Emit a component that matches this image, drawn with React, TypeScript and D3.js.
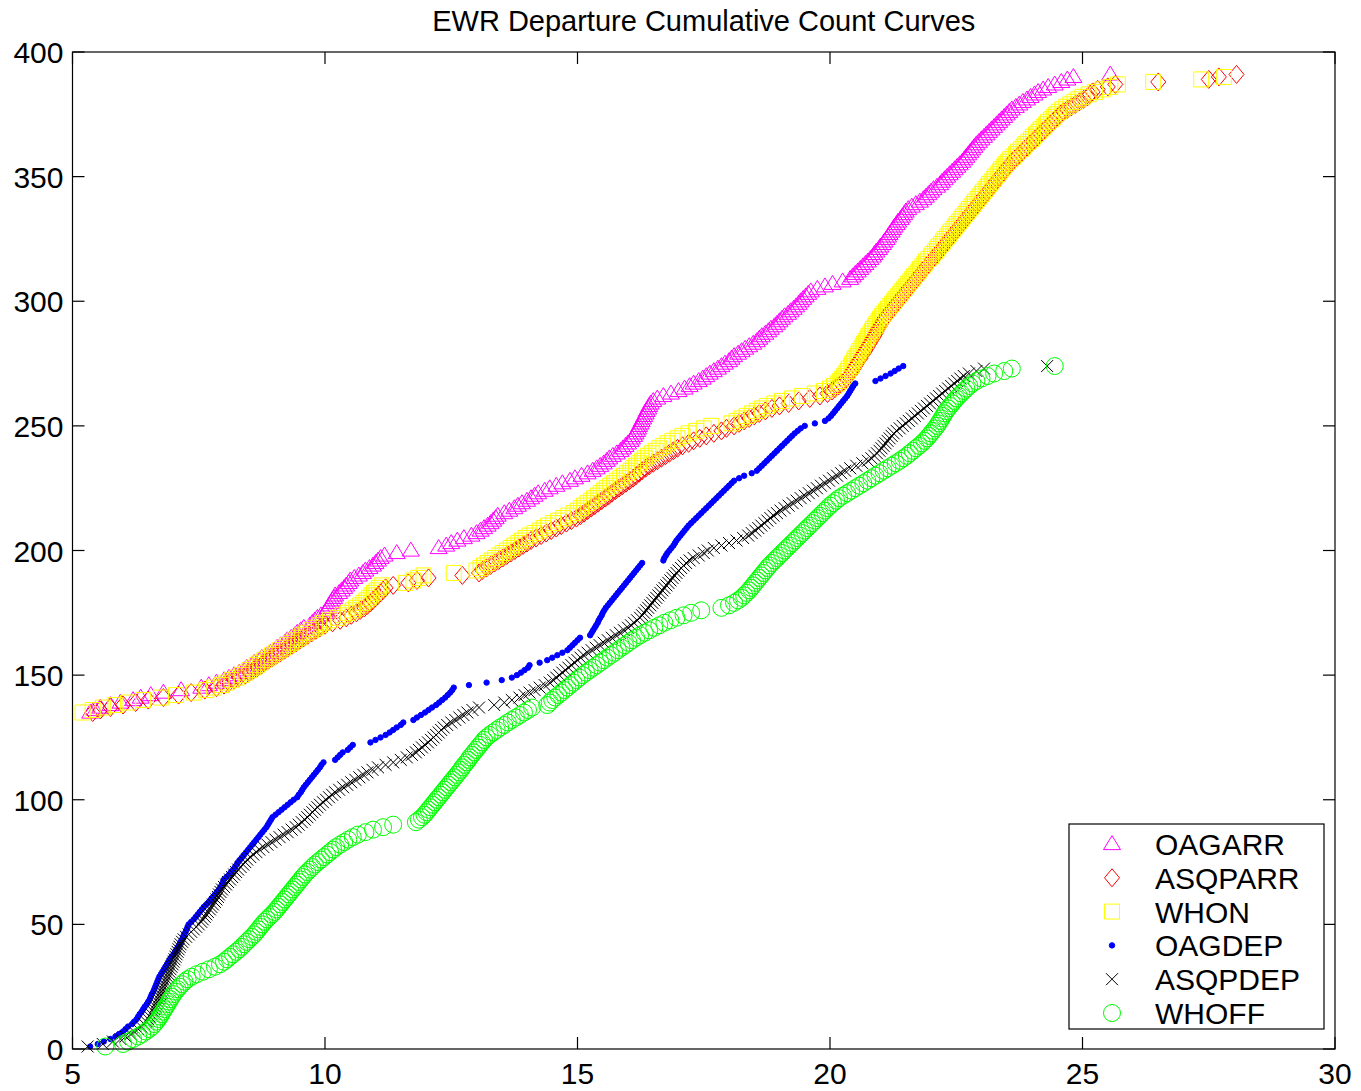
import React from "react";
import * as d3 from "d3";

// Cumulative count curves: each array holds event times (hours of day),
// the k-th entry is the time at which the cumulative count reached start + k.
const TITLE = "EWR Departure Cumulative Count Curves";
const X_TICKS = [5, 10, 15, 20, 25, 30];
const Y_TICKS = [0, 50, 100, 150, 200, 250, 300, 350, 400];

const ARR_START = 135;
const DEP_START = 1;

const OAGARR = [
  5.35, 5.45, 5.55, 5.75, 5.95, 6.2, 6.35, 6.55, 6.8, 7.15,
  7.55, 7.7, 7.85, 8.0, 8.1, 8.2, 8.3, 8.4, 8.45, 8.55,
  8.6, 8.7, 8.75, 8.85, 8.92, 9.0, 9.05, 9.12, 9.2, 9.25,
  9.33, 9.4, 9.45, 9.52, 9.58, 9.7, 9.75, 9.8, 9.85, 9.92,
  10.0, 10.03, 10.06, 10.08, 10.12, 10.15, 10.18, 10.2, 10.28, 10.33,
  10.38, 10.42, 10.47, 10.5, 10.58, 10.67, 10.75, 10.8, 10.88, 10.95,
  11.0, 11.05, 11.1, 11.18, 11.42, 11.7, 12.25, 12.4, 12.5, 12.62,
  12.75, 12.9, 13.0, 13.08, 13.15, 13.22, 13.28, 13.33, 13.38, 13.42,
  13.55, 13.65, 13.75, 13.82, 13.9, 14.0, 14.08, 14.15, 14.22, 14.35,
  14.45, 14.58, 14.7, 14.85, 14.95, 15.08, 15.2, 15.3, 15.38, 15.45,
  15.52, 15.58, 15.63, 15.7, 15.78, 15.85, 15.9, 15.95, 16.0, 16.05,
  16.08, 16.12, 16.15, 16.18, 16.2, 16.22, 16.25, 16.27, 16.3, 16.32,
  16.35, 16.37, 16.4, 16.42, 16.45, 16.5, 16.58, 16.7, 16.85, 17.0,
  17.12, 17.22, 17.3, 17.4, 17.48, 17.55, 17.62, 17.7, 17.78, 17.85,
  17.92, 18.0, 18.05, 18.1, 18.18, 18.25, 18.32, 18.4, 18.48, 18.55,
  18.6, 18.65, 18.72, 18.78, 18.83, 18.9, 18.95, 19.0, 19.05, 19.1,
  19.17, 19.22, 19.28, 19.33, 19.38, 19.42, 19.47, 19.52, 19.57, 19.62,
  19.75, 19.9, 20.05, 20.25, 20.4, 20.45, 20.5, 20.55, 20.6, 20.65,
  20.7, 20.75, 20.8, 20.85, 20.88, 20.92, 20.97, 21.0, 21.05, 21.08,
  21.12, 21.15, 21.18, 21.22, 21.25, 21.28, 21.32, 21.35, 21.4, 21.43,
  21.47, 21.5, 21.55, 21.62, 21.7, 21.78, 21.85, 21.9, 21.95, 22.0,
  22.05, 22.12, 22.18, 22.22, 22.27, 22.32, 22.37, 22.42, 22.47, 22.52,
  22.57, 22.62, 22.66, 22.7, 22.74, 22.78, 22.82, 22.86, 22.9, 22.95,
  23.0, 23.05, 23.1, 23.15, 23.2, 23.25, 23.3, 23.35, 23.4, 23.45,
  23.5, 23.55, 23.6, 23.68, 23.75, 23.82, 23.9, 23.97, 24.05, 24.12,
  24.22, 24.32, 24.45, 24.58, 24.7, 24.82, 25.55,
];

const ASQPARR = [
  5.4, 5.55, 5.75, 6.0, 6.25, 6.5, 6.8, 7.1, 7.35, 7.62,
  7.85, 8.0, 8.1, 8.2, 8.3, 8.42, 8.5, 8.58, 8.66, 8.74,
  8.8, 8.88, 8.96, 9.04, 9.12, 9.2, 9.27, 9.35, 9.43, 9.5,
  9.58, 9.66, 9.74, 9.82, 9.9, 10.0, 10.15, 10.3, 10.42, 10.52,
  10.62, 10.7, 10.78, 10.84, 10.9, 10.95, 11.0, 11.05, 11.1, 11.15,
  11.2, 11.35, 11.65, 11.82, 12.05, 12.72, 13.05, 13.12, 13.2, 13.28,
  13.36, 13.44, 13.52, 13.6, 13.68, 13.76, 13.84, 13.92, 14.0, 14.08,
  14.18, 14.28, 14.38, 14.48, 14.58, 14.68, 14.78, 14.88, 14.98, 15.06,
  15.13, 15.2, 15.27, 15.34, 15.41, 15.48, 15.55, 15.62, 15.68, 15.75,
  15.82, 15.89, 15.96, 16.03, 16.1, 16.16, 16.22, 16.28, 16.35, 16.42,
  16.5, 16.58, 16.66, 16.74, 16.82, 16.9, 16.98, 17.08, 17.2, 17.3,
  17.42, 17.55, 17.7, 17.85, 17.95, 18.1, 18.2, 18.3, 18.4, 18.5,
  18.6, 18.72, 18.85, 19.0, 19.18, 19.38, 19.6, 19.8, 19.95, 20.04,
  20.1, 20.17, 20.22, 20.28, 20.32, 20.36, 20.4, 20.44, 20.47, 20.5,
  20.53, 20.56, 20.6, 20.62, 20.66, 20.69, 20.72, 20.75, 20.78, 20.81,
  20.84, 20.87, 20.9, 20.92, 20.95, 20.98, 21.01, 21.04, 21.07, 21.11,
  21.15, 21.19, 21.23, 21.27, 21.31, 21.35, 21.39, 21.43, 21.47, 21.51,
  21.55, 21.59, 21.63, 21.67, 21.71, 21.75, 21.79, 21.83, 21.87, 21.91,
  21.95, 21.99, 22.03, 22.08, 22.12, 22.16, 22.2, 22.24, 22.28, 22.32,
  22.36, 22.4, 22.44, 22.48, 22.52, 22.56, 22.6, 22.64, 22.68, 22.72,
  22.76, 22.8, 22.84, 22.88, 22.92, 22.96, 23.0, 23.04, 23.08, 23.12,
  23.16, 23.2, 23.24, 23.28, 23.32, 23.36, 23.4, 23.44, 23.48, 23.52,
  23.56, 23.61, 23.66, 23.71, 23.76, 23.81, 23.86, 23.91, 23.96, 24.01,
  24.06, 24.11, 24.16, 24.21, 24.26, 24.31, 24.36, 24.41, 24.46, 24.51,
  24.56, 24.62, 24.7, 24.78, 24.86, 24.94, 25.02, 25.1, 25.15, 25.2,
  25.3, 25.5, 25.65, 26.5, 27.5, 27.7, 28.05,
];

const WHON = [
  5.2, 5.4, 5.6, 5.85, 6.1, 6.4, 6.75, 7.05, 7.4, 7.65,
  7.8, 7.95, 8.05, 8.15, 8.25, 8.35, 8.42, 8.5, 8.58, 8.65,
  8.72, 8.8, 8.88, 8.95, 9.02, 9.1, 9.17, 9.25, 9.33, 9.4,
  9.48, 9.55, 9.63, 9.72, 9.8, 9.88, 9.97, 10.1, 10.25, 10.35,
  10.45, 10.55, 10.62, 10.7, 10.76, 10.82, 10.87, 10.92, 10.97, 11.02,
  11.07, 11.12, 11.6, 11.75, 11.85, 11.95, 12.55, 13.0, 13.08, 13.15,
  13.22, 13.3, 13.37, 13.45, 13.52, 13.6, 13.68, 13.75, 13.83, 13.9,
  13.97, 14.05, 14.15, 14.25, 14.33, 14.42, 14.52, 14.62, 14.72, 14.82,
  14.92, 15.0, 15.07, 15.13, 15.2, 15.27, 15.33, 15.4, 15.46, 15.52,
  15.58, 15.65, 15.72, 15.78, 15.85, 15.92, 15.98, 16.05, 16.1, 16.16,
  16.22, 16.28, 16.33, 16.4, 16.47, 16.55, 16.62, 16.7, 16.78, 16.88,
  16.98, 17.08, 17.2, 17.35, 17.5, 17.65, 18.05, 18.15, 18.25, 18.35,
  18.45, 18.55, 18.65, 18.75, 18.9, 19.05, 19.25, 19.45, 19.7, 19.88,
  20.0, 20.08, 20.15, 20.2, 20.24, 20.28, 20.31, 20.35, 20.37, 20.42,
  20.44, 20.47, 20.49, 20.53, 20.56, 20.58, 20.62, 20.65, 20.67, 20.71,
  20.74, 20.76, 20.8, 20.83, 20.85, 20.89, 20.92, 20.96, 20.99, 21.03,
  21.06, 21.11, 21.15, 21.18, 21.23, 21.27, 21.3, 21.35, 21.39, 21.42,
  21.47, 21.51, 21.54, 21.59, 21.63, 21.66, 21.71, 21.75, 21.78, 21.83,
  21.87, 21.9, 21.95, 22.0, 22.03, 22.08, 22.12, 22.15, 22.2, 22.24,
  22.27, 22.32, 22.36, 22.39, 22.44, 22.48, 22.51, 22.56, 22.6, 22.63,
  22.68, 22.72, 22.75, 22.8, 22.84, 22.87, 22.92, 22.96, 23.0, 23.03,
  23.08, 23.12, 23.15, 23.2, 23.24, 23.27, 23.32, 23.36, 23.39, 23.44,
  23.48, 23.53, 23.57, 23.63, 23.68, 23.72, 23.78, 23.83, 23.87, 23.93,
  23.98, 24.02, 24.08, 24.13, 24.17, 24.23, 24.28, 24.32, 24.38, 24.43,
  24.48, 24.53, 24.6, 24.68, 24.76, 24.84, 24.92, 25.0, 25.12, 25.25,
  25.4, 25.55, 25.7, 26.4, 27.35, 27.8,
];

const OAGDEP = [
  5.35, 5.5, 5.62, 5.75, 5.85, 5.92, 6.0, 6.05, 6.1, 6.18,
  6.22, 6.27, 6.3, 6.33, 6.37, 6.4, 6.43, 6.47, 6.5, 6.53,
  6.55, 6.57, 6.6, 6.62, 6.64, 6.66, 6.68, 6.7, 6.72, 6.75,
  6.78, 6.81, 6.84, 6.87, 6.9, 6.93, 6.96, 7.0, 7.03, 7.06,
  7.09, 7.12, 7.14, 7.17, 7.19, 7.21, 7.24, 7.26, 7.28, 7.3,
  7.35, 7.4, 7.44, 7.48, 7.52, 7.56, 7.6, 7.65, 7.7, 7.74,
  7.78, 7.82, 7.86, 7.9, 7.93, 7.96, 7.98, 8.0, 8.05, 8.1,
  8.14, 8.18, 8.22, 8.25, 8.28, 8.32, 8.36, 8.4, 8.44, 8.48,
  8.52, 8.56, 8.6, 8.64, 8.68, 8.72, 8.76, 8.8, 8.84, 8.87,
  8.9, 8.93, 8.96, 9.02, 9.08, 9.14, 9.2, 9.26, 9.32, 9.38,
  9.45, 9.48, 9.52, 9.55, 9.58, 9.62, 9.66, 9.7, 9.74, 9.78,
  9.82, 9.86, 9.9, 9.93, 9.97, 10.2, 10.25, 10.3, 10.35, 10.45,
  10.5, 10.55, 10.9, 11.0, 11.1, 11.2, 11.28, 11.35, 11.42, 11.5,
  11.55, 11.75, 11.82, 11.9, 11.98, 12.05, 12.12, 12.2, 12.26, 12.32,
  12.38, 12.43, 12.48, 12.52, 12.55, 12.85, 13.2, 13.5, 13.7, 13.8,
  13.88, 13.95, 14.02, 14.05, 14.25, 14.4, 14.5, 14.6, 14.7, 14.8,
  14.85, 14.9, 14.95, 15.0, 15.05, 15.25, 15.28, 15.31, 15.34, 15.37,
  15.4, 15.42, 15.45, 15.48, 15.5, 15.53, 15.56, 15.6, 15.64, 15.68,
  15.72, 15.76, 15.8, 15.84, 15.88, 15.92, 15.96, 16.0, 16.04, 16.08,
  16.12, 16.16, 16.2, 16.24, 16.28, 16.7, 16.72, 16.75, 16.78, 16.82,
  16.86, 16.9, 16.93, 16.96, 17.0, 17.04, 17.08, 17.12, 17.16, 17.2,
  17.25, 17.3, 17.35, 17.4, 17.45, 17.5, 17.55, 17.6, 17.65, 17.7,
  17.75, 17.8, 17.85, 17.9, 17.95, 18.0, 18.05, 18.1, 18.2, 18.3,
  18.45, 18.55, 18.6, 18.65, 18.7, 18.75, 18.8, 18.85, 18.9, 18.95,
  19.0, 19.05, 19.1, 19.15, 19.2, 19.25, 19.3, 19.36, 19.42, 19.5,
  19.7, 19.9, 19.97, 20.02, 20.06, 20.1, 20.14, 20.18, 20.22, 20.26,
  20.3, 20.34, 20.37, 20.4, 20.43, 20.46, 20.5, 20.9, 21.0, 21.1,
  21.2, 21.28, 21.36, 21.45,
];

const ASQPDEP = [
  5.3, 5.6, 5.8, 5.95, 6.05, 6.15, 6.22, 6.3, 6.36, 6.42,
  6.46, 6.5, 6.53, 6.56, 6.6, 6.62, 6.64, 6.66, 6.68, 6.7,
  6.72, 6.74, 6.76, 6.78, 6.8, 6.82, 6.84, 6.86, 6.88, 6.9,
  6.92, 6.94, 6.96, 6.98, 7.0, 7.02, 7.04, 7.06, 7.08, 7.1,
  7.12, 7.14, 7.17, 7.2, 7.25, 7.3, 7.35, 7.4, 7.45, 7.5,
  7.55, 7.58, 7.62, 7.65, 7.68, 7.72, 7.75, 7.78, 7.82, 7.85,
  7.88, 7.9, 7.93, 7.96, 8.0, 8.04, 8.08, 8.12, 8.16, 8.2,
  8.24, 8.28, 8.33, 8.38, 8.42, 8.46, 8.52, 8.58, 8.64, 8.7,
  8.78, 8.86, 8.94, 9.02, 9.1, 9.18, 9.26, 9.34, 9.42, 9.48,
  9.54, 9.6, 9.65, 9.7, 9.75, 9.8, 9.85, 9.9, 9.96, 10.02,
  10.08, 10.14, 10.2, 10.28, 10.36, 10.44, 10.52, 10.6, 10.68, 10.76,
  10.84, 10.94, 11.05, 11.2, 11.35, 11.5, 11.62, 11.72, 11.8, 11.86,
  11.92, 11.98, 12.04, 12.1, 12.15, 12.2, 12.25, 12.3, 12.35, 12.42,
  12.5, 12.58, 12.66, 12.74, 12.82, 12.92, 13.05, 13.35, 13.55, 13.7,
  13.85, 13.95, 14.05, 14.15, 14.25, 14.35, 14.45, 14.52, 14.58, 14.64,
  14.7, 14.76, 14.82, 14.88, 14.94, 15.0, 15.06, 15.12, 15.2, 15.28,
  15.36, 15.44, 15.52, 15.6, 15.68, 15.76, 15.84, 15.92, 16.0, 16.06,
  16.12, 16.18, 16.24, 16.28, 16.32, 16.36, 16.4, 16.44, 16.48, 16.52,
  16.56, 16.6, 16.64, 16.68, 16.72, 16.76, 16.8, 16.84, 16.88, 16.92,
  16.96, 17.0, 17.05, 17.1, 17.15, 17.22, 17.3, 17.4, 17.5, 17.58,
  17.7, 17.85, 18.0, 18.15, 18.28, 18.38, 18.45, 18.52, 18.58, 18.64,
  18.7, 18.76, 18.82, 18.88, 18.95, 19.02, 19.1, 19.18, 19.26, 19.34,
  19.42, 19.5, 19.58, 19.66, 19.74, 19.82, 19.9, 19.98, 20.06, 20.14,
  20.22, 20.3, 20.4, 20.52, 20.64, 20.75, 20.82, 20.88, 20.93, 20.98,
  21.02, 21.06, 21.1, 21.14, 21.18, 21.22, 21.26, 21.32, 21.38, 21.44,
  21.5, 21.56, 21.62, 21.68, 21.74, 21.8, 21.86, 21.92, 21.98, 22.04,
  22.1, 22.16, 22.22, 22.28, 22.34, 22.4, 22.46, 22.52, 22.58, 22.65,
  22.75, 22.9, 23.05, 24.3,
];

const WHOFF = [
  5.65, 6.0, 6.1, 6.2, 6.3, 6.38, 6.45, 6.52, 6.58, 6.62,
  6.66, 6.7, 6.73, 6.76, 6.79, 6.82, 6.85, 6.88, 6.91, 6.94,
  6.97, 7.0, 7.04, 7.08, 7.12, 7.17, 7.22, 7.28, 7.36, 7.46,
  7.58, 7.7, 7.82, 7.92, 8.0, 8.06, 8.12, 8.18, 8.24, 8.3,
  8.35, 8.4, 8.45, 8.5, 8.55, 8.6, 8.64, 8.68, 8.72, 8.76,
  8.8, 8.85, 8.9, 8.95, 9.0, 9.04, 9.08, 9.12, 9.16, 9.2,
  9.24, 9.28, 9.32, 9.36, 9.4, 9.44, 9.48, 9.52, 9.56, 9.6,
  9.65, 9.7, 9.75, 9.8, 9.86, 9.92, 9.98, 10.04, 10.1, 10.16,
  10.22, 10.3, 10.38, 10.46, 10.55, 10.65, 10.8, 10.95, 11.15, 11.35,
  11.8, 11.86, 11.92, 11.97, 12.01, 12.05, 12.09, 12.13, 12.17, 12.21,
  12.25, 12.29, 12.33, 12.37, 12.41, 12.45, 12.49, 12.53, 12.57, 12.61,
  12.65, 12.69, 12.72, 12.76, 12.8, 12.84, 12.87, 12.91, 12.95, 12.99,
  13.03, 13.07, 13.11, 13.15, 13.2, 13.26, 13.33, 13.4, 13.47, 13.55,
  13.62, 13.7, 13.78, 13.86, 13.94, 14.02, 14.1, 14.4, 14.45, 14.5,
  14.56, 14.62, 14.68, 14.74, 14.8, 14.86, 14.92, 14.98, 15.04, 15.1,
  15.17, 15.24, 15.31, 15.38, 15.45, 15.52, 15.59, 15.66, 15.73, 15.8,
  15.87, 15.94, 16.01, 16.08, 16.16, 16.24, 16.33, 16.42, 16.52, 16.62,
  16.72, 16.84, 16.96, 17.1, 17.25, 17.45, 17.85, 18.0, 18.1, 18.18,
  18.25, 18.3, 18.35, 18.4, 18.44, 18.48, 18.52, 18.56, 18.6, 18.64,
  18.68, 18.72, 18.76, 18.8, 18.85, 18.9, 18.95, 19.0, 19.05, 19.1,
  19.15, 19.2, 19.25, 19.3, 19.35, 19.4, 19.45, 19.5, 19.55, 19.6,
  19.65, 19.7, 19.75, 19.8, 19.85, 19.9, 19.95, 20.0, 20.06, 20.12,
  20.18, 20.26, 20.34, 20.42, 20.5, 20.58, 20.66, 20.74, 20.82, 20.9,
  20.98, 21.06, 21.14, 21.22, 21.3, 21.38, 21.45, 21.52, 21.58, 21.64,
  21.7, 21.76, 21.82, 21.87, 21.92, 21.96, 22.0, 22.04, 22.08, 22.12,
  22.15, 22.18, 22.21, 22.24, 22.27, 22.3, 22.34, 22.38, 22.42, 22.46,
  22.5, 22.55, 22.6, 22.65, 22.7, 22.76, 22.82, 22.9, 23.0, 23.12,
  23.25, 23.45, 23.6, 24.45,
];

type MarkerKind = "triangle" | "diamond" | "square" | "dot" | "cross" | "circle";

const SERIES: { name: string; times: number[]; start: number; color: string; marker: MarkerKind }[] = [
  { name: "OAGARR", times: OAGARR, start: ARR_START, color: "#ff00ff", marker: "triangle" },
  { name: "ASQPARR", times: ASQPARR, start: ARR_START, color: "#ff0000", marker: "diamond" },
  { name: "WHON", times: WHON, start: ARR_START, color: "#ffff00", marker: "square" },
  { name: "OAGDEP", times: OAGDEP, start: DEP_START, color: "#0000ff", marker: "dot" },
  { name: "ASQPDEP", times: ASQPDEP, start: DEP_START, color: "#000000", marker: "cross" },
  { name: "WHOFF", times: WHOFF, start: DEP_START, color: "#00ff00", marker: "circle" },
];

const FONT = "'Liberation Sans', Arial, Helvetica, sans-serif";

function markerPath(kind: MarkerKind, cx: number, cy: number): string {
  const p = d3.path();
  switch (kind) {
    case "triangle": {
      const w = 17, h = 14;
      p.moveTo(cx, cy - h * 0.6);
      p.lineTo(cx + w / 2, cy + h * 0.4);
      p.lineTo(cx - w / 2, cy + h * 0.4);
      p.closePath();
      break;
    }
    case "diamond": {
      const w = 15, h = 18;
      p.moveTo(cx, cy - h / 2);
      p.lineTo(cx + w / 2, cy);
      p.lineTo(cx, cy + h / 2);
      p.lineTo(cx - w / 2, cy);
      p.closePath();
      break;
    }
    case "square": {
      const s = 15;
      p.rect(cx - s / 2, cy - s / 2, s, s);
      break;
    }
    case "dot": {
      p.arc(cx, cy, 2.7, 0, Math.PI * 2);
      break;
    }
    case "cross": {
      const r = 6;
      p.moveTo(cx - r, cy - r);
      p.lineTo(cx + r, cy + r);
      p.moveTo(cx - r, cy + r);
      p.lineTo(cx + r, cy - r);
      break;
    }
    case "circle": {
      p.moveTo(cx + 8.5, cy);
      p.arc(cx, cy, 8.5, 0, Math.PI * 2);
      break;
    }
  }
  return p.toString();
}

function Marker({ kind, color, cx, cy }: { kind: MarkerKind; color: string; cx: number; cy: number }) {
  const filled = kind === "dot";
  return (
    <path
      d={markerPath(kind, cx, cy)}
      fill={filled ? color : "none"}
      stroke={color}
      strokeWidth={1}
    />
  );
}

export default function App() {
  const W = 1361;
  const H = 1091;
  const left = 72.5, right = 1335, top = 52, bottom = 1049;

  const x = d3.scaleLinear().domain([5, 30]).range([left, right]);
  const y = d3.scaleLinear().domain([0, 400]).range([bottom, top]);
  const tickLen = 12;

  const legend = { x: 1069, y: 824, w: 255, h: 205 };
  const legendRowY = (i: number) => legend.y + 20 + i * 33.8;

  return (
    <svg
      width={W}
      height={H}
      viewBox={`0 0 ${W} ${H}`}
      style={{ position: "absolute", left: 0, top: 0, background: "#fff" }}
    >
      <rect x={0} y={0} width={W} height={H} fill="#fff" />

      {/* title */}
      <text x={(left + right) / 2} y={31} textAnchor="middle" fontFamily={FONT} fontSize={29} fill="#000">
        {TITLE}
      </text>

      {/* data series */}
      {SERIES.map((s) => (
        <g key={s.name}>
          {s.times.map((t, i) => (
            <Marker key={i} kind={s.marker} color={s.color} cx={x(t)} cy={y(s.start + i)} />
          ))}
        </g>
      ))}

      {/* axes box */}
      <rect x={left} y={top} width={right - left} height={bottom - top} fill="none" stroke="#000" strokeWidth={1.2} />

      {/* x ticks (bottom and top, inward) */}
      {X_TICKS.map((v) => (
        <g key={`x${v}`}>
          <line x1={x(v)} x2={x(v)} y1={bottom} y2={bottom - tickLen} stroke="#000" strokeWidth={1.2} />
          <line x1={x(v)} x2={x(v)} y1={top} y2={top + tickLen} stroke="#000" strokeWidth={1.2} />
          <text x={x(v)} y={bottom + 35} textAnchor="middle" fontFamily={FONT} fontSize={30} fill="#000">
            {v}
          </text>
        </g>
      ))}

      {/* y ticks (left and right, inward) */}
      {Y_TICKS.map((v) => (
        <g key={`y${v}`}>
          <line x1={left} x2={left + tickLen} y1={y(v)} y2={y(v)} stroke="#000" strokeWidth={1.2} />
          <line x1={right} x2={right - tickLen} y1={y(v)} y2={y(v)} stroke="#000" strokeWidth={1.2} />
          <text x={left - 9} y={y(v) + 11} textAnchor="end" fontFamily={FONT} fontSize={30} fill="#000">
            {v}
          </text>
        </g>
      ))}

      {/* legend */}
      <rect x={legend.x} y={legend.y} width={legend.w} height={legend.h} fill="#fff" stroke="#000" strokeWidth={1.2} />
      {SERIES.map((s, i) => (
        <g key={`lg${s.name}`}>
          <Marker kind={s.marker} color={s.color} cx={1112} cy={legendRowY(i)} />
          <text x={1155} y={legendRowY(i) + 11} fontFamily={FONT} fontSize={30} fill="#000">
            {s.name}
          </text>
        </g>
      ))}
    </svg>
  );
}
